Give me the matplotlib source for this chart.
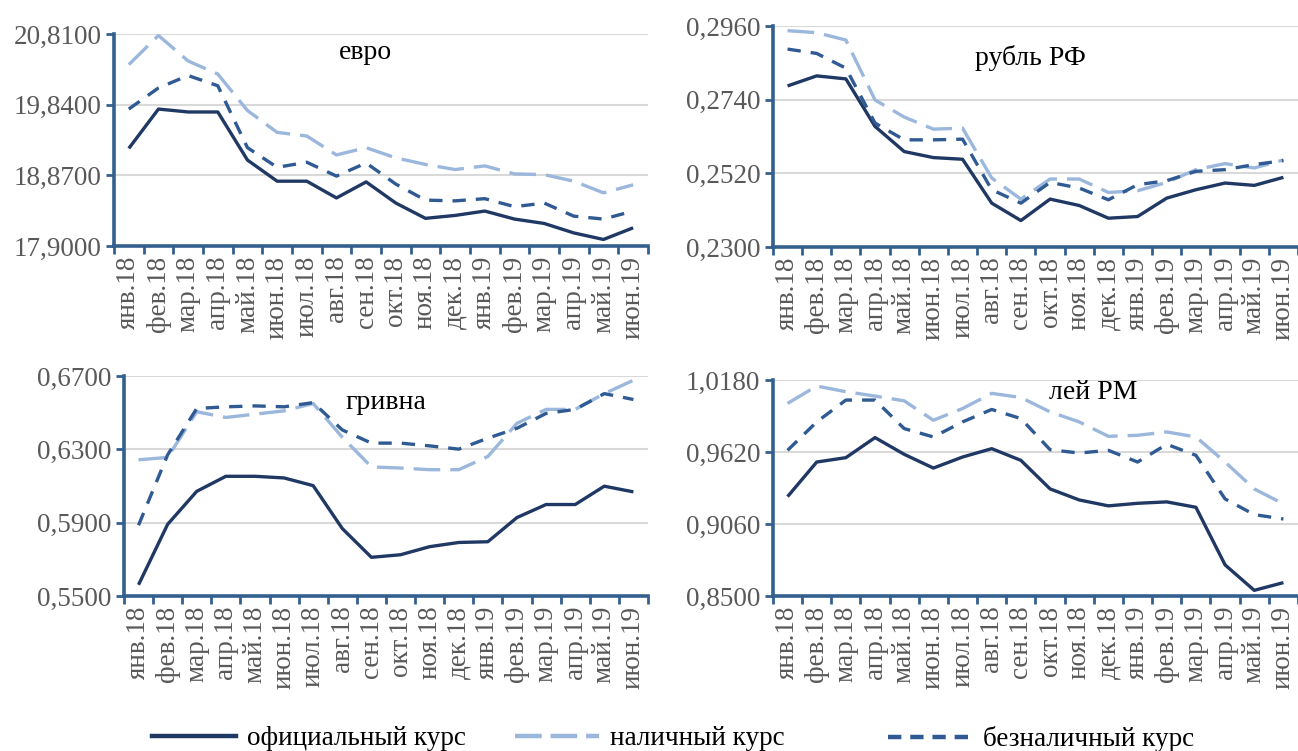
import matplotlib.pyplot as plt
from matplotlib.lines import Line2D
from matplotlib.ticker import FixedLocator, FuncFormatter

plt.rcParams['font.family'] = ['Liberation Serif', 'DejaVu Serif']

months = ["янв.18", "фев.18", "мар.18", "апр.18", "май.18", "июн.18", "июл.18",
          "авг.18", "сен.18", "окт.18", "ноя.18", "дек.18", "янв.19", "фев.19",
          "мар.19", "апр.19", "май.19", "июн.19"]

# евро
eur_official = [19.24, 19.78, 19.74, 19.74, 19.08, 18.79, 18.79, 18.56, 18.78,
                18.49, 18.28, 18.32, 18.38, 18.27, 18.21, 18.08, 17.99, 18.15]
eur_cash = [20.39, 20.79, 20.44, 20.26, 19.76, 19.46, 19.41, 19.15, 19.25,
            19.11, 19.02, 18.95, 19.00, 18.89, 18.88, 18.79, 18.63, 18.74]
eur_noncash = [19.78, 20.07, 20.24, 20.10, 19.25, 18.98, 19.05, 18.86, 19.04,
               18.75, 18.53, 18.52, 18.55, 18.44, 18.49, 18.31, 18.27, 18.38]

# рубль РФ
rub_official = [0.2781, 0.2811, 0.2802, 0.2660, 0.2585, 0.2567, 0.2562, 0.2431, 0.2379,
                0.2443, 0.2424, 0.2386, 0.2391, 0.2446, 0.2471, 0.2491, 0.2484, 0.2508]
rub_cash = [0.2946, 0.2940, 0.2918, 0.2739, 0.2688, 0.2652, 0.2655, 0.2506, 0.2443,
            0.2503, 0.2503, 0.2463, 0.2468, 0.2493, 0.2531, 0.2549, 0.2536, 0.2560]
rub_noncash = [0.2891, 0.2878, 0.2834, 0.2670, 0.2620, 0.2620, 0.2622, 0.2471, 0.2431,
               0.2493, 0.2476, 0.2441, 0.2486, 0.2498, 0.2526, 0.2531, 0.2546, 0.2558]

# гривна
uah_official = [0.5561, 0.5891, 0.6071, 0.6153, 0.6153, 0.6144, 0.6102, 0.5868, 0.5711,
                0.5725, 0.5769, 0.5792, 0.5796, 0.5928, 0.5999, 0.5999, 0.6099, 0.6068]
uah_cash = [0.6243, 0.6256, 0.6505, 0.6474, 0.6492, 0.6510, 0.6550, 0.6366, 0.6204,
            0.6198, 0.6189, 0.6189, 0.6261, 0.6442, 0.6518, 0.6518, 0.6604, 0.6677]
uah_noncash = [0.5886, 0.6270, 0.6523, 0.6532, 0.6537, 0.6532, 0.6555, 0.6406, 0.6334,
               0.6334, 0.6319, 0.6301, 0.6361, 0.6415, 0.6496, 0.6518, 0.6604, 0.6572]

# лей РМ
mdl_official = [0.9273, 0.9542, 0.9576, 0.9732, 0.9602, 0.9495, 0.9581, 0.9646, 0.9555,
                0.9333, 0.9247, 0.9201, 0.9221, 0.9232, 0.9190, 0.8742, 0.8544, 0.8604]
mdl_cash = [0.9998, 1.0133, 1.0089, 1.0055, 1.0018, 0.9867, 0.9958, 1.0076, 1.0044,
            0.9932, 0.9854, 0.9742, 0.9750, 0.9776, 0.9737, 0.9542, 0.9333, 0.9216]
mdl_noncash = [0.9633, 0.9854, 1.0024, 1.0024, 0.9802, 0.9737, 0.9854, 0.9951, 0.9880,
               0.9638, 0.9612, 0.9633, 0.9542, 0.9680, 0.9594, 0.9255, 0.9133, 0.9099]

eur_ticks = [17.90, 18.87, 19.84, 20.81]
rub_ticks = [0.2300, 0.2520, 0.2740, 0.2960]
uah_ticks = [0.5500, 0.5900, 0.6300, 0.6700]
mdl_ticks = [0.8500, 0.9060, 0.9620, 1.0180]

series_labels = ["официальный курс", "наличный курс", "безналичный курс"]

C_OFF = "#203864"
C_CASH = "#9BB7DC"
C_NONC = "#2F5A93"
C_AXIS = "#33608F"
C_GRID = "#D9D9D9"
C_TICK = "#595959"
LW = 2.4
FS = 19.5

# panels: [left, bottom, width, height] in figure fraction
panels = [
    ("евро", eur_official, eur_cash, eur_noncash, eur_ticks,
     [0.0878, 0.6724, 0.4114, 0.2823], (0.47, 0.915)),
    ("рубль РФ", rub_official, rub_cash, rub_noncash, rub_ticks,
     [0.5955, 0.6711, 0.4045, 0.2943], (0.49, 0.855)),
    ("гривна", uah_official, uah_cash, uah_noncash, uah_ticks,
     [0.0955, 0.2064, 0.4037, 0.2929], (0.50, 0.88)),
    ("лей РМ", mdl_official, mdl_cash, mdl_noncash, mdl_ticks,
     [0.5955, 0.2064, 0.4045, 0.2876], (0.61, 0.94)),
]

fig = plt.figure(figsize=(12.98, 7.51), dpi=100)

x = list(range(len(months)))

for title, off, cash, nonc, ticks, rect, tpos in panels:
    ax = fig.add_axes(rect)
    ax.plot(x, off, color=C_OFF, lw=LW, solid_capstyle='butt', zorder=3)
    ax.plot(x, cash, color=C_CASH, lw=LW, dashes=(8, 3), zorder=3)
    ax.plot(x, nonc, color=C_NONC, lw=LW, dashes=(4, 3), zorder=4)

    ax.set_xlim(-0.5, len(months) - 0.5)
    ax.set_ylim(ticks[0], ticks[-1])
    ax.set_yticks(ticks)
    ax.yaxis.set_major_formatter(FuncFormatter(lambda v, p: f"{v:.4f}".replace(".", ",")))
    ax.grid(axis='y', color=C_GRID, lw=1.5, zorder=0)

    # tick marks between categories, labels at categories
    ax.xaxis.set_major_locator(FixedLocator([i - 0.5 for i in range(len(months) + 1)]))
    ax.xaxis.set_minor_locator(FixedLocator(x))
    ax.set_xticklabels([], minor=False)
    ax.set_xticklabels(months, minor=True, rotation=90)
    ax.tick_params(axis='x', which='major', length=6, width=2, color=C_AXIS, direction='out')
    ax.tick_params(axis='x', which='minor', length=0, pad=7, labelsize=FS, labelcolor=C_TICK)
    ax.tick_params(axis='y', length=6, width=2, color=C_AXIS, direction='out',
                   pad=3, labelsize=FS, labelcolor=C_TICK)

    for side in ('top', 'right'):
        ax.spines[side].set_visible(False)
    for side in ('left', 'bottom'):
        ax.spines[side].set_color(C_AXIS)
        ax.spines[side].set_linewidth(2.6)
    ax.set_facecolor('none')

    ax.text(tpos[0], tpos[1], title, transform=ax.transAxes, ha='center', va='center',
            fontsize=FS + 0.5, color='black')

# legend: three entries in equal slots, like the Excel original
handles = [
    Line2D([], [], color=C_OFF, lw=LW + 0.8),
    Line2D([], [], color=C_CASH, lw=LW + 0.8, dashes=(6, 2)),
    Line2D([], [], color=C_NONC, lw=LW + 0.8, dashes=(3, 2)),
]
slot_x = [0.117, 0.397, 0.684]
for h, lab, sx in zip(handles, series_labels, slot_x):
    fig.legend([h], [lab], loc='center left', bbox_to_anchor=(sx, 0.016),
               frameon=False, fontsize=19.5, handlelength=3.1, handletextpad=0.4,
               borderpad=0, borderaxespad=0)

fig.savefig("out.png", dpi=100)
